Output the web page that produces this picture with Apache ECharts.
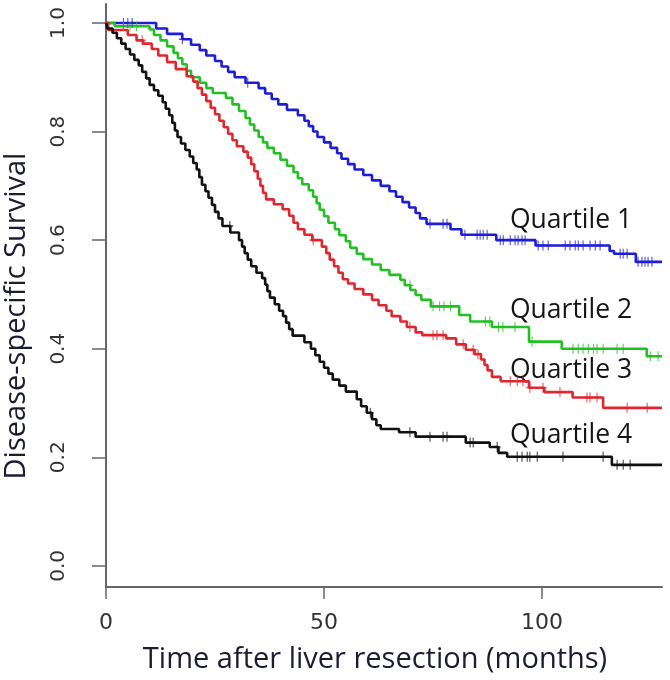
<!DOCTYPE html>
<html>
<head>
<meta charset="utf-8">
<script src="https://cdn.jsdelivr.net/npm/echarts@6/dist/echarts.min.js"></script>
<style>html,body{margin:0;padding:0;background:#fff}#chart{width:670px;height:680px}</style>
</head>
<body>
<div id="chart"></div>
<script>
// ---- data ----
var xTicks = [0, 50, 100];
var yTicks = [0, 0.2, 0.4, 0.6, 0.8, 1.0];
var seriesNames = ['Quartile 1', 'Quartile 2', 'Quartile 3', 'Quartile 4'];

var q1Times = [0, 11.5, 14, 17.5, 19.5, 21.5, 23, 25, 26.5, 28, 29.5, 32, 35, 36.5, 38, 39.5, 41.5, 44, 45.5, 46.5, 47.5, 48.5, 50, 51.5, 53, 54, 55.5, 57, 59, 61, 63, 65, 66.5, 68, 69.5, 71, 72, 73.5, 79, 81.5, 89.5, 98.5, 115.5, 116.5, 121.5, 127.5];
var q1Surv  = [1.0, 0.99, 0.98, 0.97, 0.96, 0.95, 0.94, 0.93, 0.92, 0.91, 0.90, 0.89, 0.88, 0.87, 0.86, 0.85, 0.84, 0.83, 0.82, 0.81, 0.80, 0.79, 0.78, 0.77, 0.76, 0.75, 0.74, 0.73, 0.72, 0.71, 0.70, 0.69, 0.68, 0.67, 0.66, 0.65, 0.64, 0.63, 0.62, 0.61, 0.60, 0.59, 0.58, 0.575, 0.56, 0.56];
var q1Cens  = [4, 5, 6, 17.5, 32.5, 74.3, 77.3, 78.2, 82.3, 85.1, 85.8, 86.5, 87.4, 90.4, 91.1, 92.7, 93.8, 94.5, 95.4, 96.1, 99.1, 100.2, 101.4, 105.3, 106.4, 107.6, 108.3, 109.4, 111, 112.2, 113.3, 117.9, 118.6, 119.5, 122, 122.9, 123.6, 124.3, 125.2];

var q2Times = [0, 2, 10, 11, 12.5, 14, 15.5, 16.5, 17.5, 18.5, 19.5, 21.5, 23, 24.5, 27.5, 29, 30.5, 32, 33, 34, 35, 36, 37, 38.5, 40, 41.5, 43, 44, 45, 46.5, 47.5, 48.3, 49, 50, 51, 52.5, 53.5, 55, 56, 57.5, 59, 61, 63, 65, 67.5, 68.5, 69.8, 71, 72.3, 74.5, 81, 83.5, 88.5, 97, 104.5, 124, 127.5];
var q2Surv  = [1.0, 0.994, 0.988, 0.978, 0.968, 0.957, 0.945, 0.935, 0.924, 0.912, 0.90, 0.89, 0.88, 0.871, 0.862, 0.85, 0.838, 0.825, 0.813, 0.802, 0.79, 0.78, 0.77, 0.76, 0.748, 0.737, 0.725, 0.714, 0.703, 0.692, 0.68, 0.668, 0.656, 0.644, 0.632, 0.62, 0.609, 0.598, 0.586, 0.575, 0.565, 0.555, 0.545, 0.536, 0.527, 0.517, 0.508, 0.499, 0.49, 0.478, 0.462, 0.45, 0.44, 0.413, 0.40, 0.386, 0.386];
var q2Cens  = [4, 5.5, 7, 69.7, 75, 76.5, 77.5, 79, 87, 88, 90, 91, 93.8, 97.7, 107.1, 108.3, 109.4, 110.6, 111.8, 112.6, 114, 117.2, 118.6, 124.8, 126.6];

var q3Times = [0, 0.5, 5, 7, 8.5, 10.5, 12, 14, 16, 18.5, 20, 21, 22, 23, 24, 25, 26, 27, 28, 29, 30, 31.5, 32.5, 33.3, 34, 34.8, 35.4, 36, 36.7, 38.5, 40.5, 42, 43, 44, 45.5, 47.3, 49.5, 50.5, 51.3, 52.3, 53.3, 54.3, 55.5, 57, 59, 61, 62.5, 64.3, 65.5, 67.5, 69, 71, 72.5, 78, 80.3, 82.5, 84.5, 86, 86.8, 87.5, 88.5, 90.5, 97, 100.5, 107, 114, 127.5];
var q3Surv  = [1.0, 0.987, 0.978, 0.968, 0.962, 0.952, 0.94, 0.928, 0.915, 0.902, 0.892, 0.88, 0.868, 0.856, 0.844, 0.832, 0.82, 0.808, 0.796, 0.784, 0.773, 0.763, 0.752, 0.74, 0.727, 0.713, 0.70, 0.687, 0.675, 0.666, 0.657, 0.645, 0.632, 0.62, 0.61, 0.60, 0.588, 0.576, 0.564, 0.552, 0.54, 0.528, 0.52, 0.51, 0.50, 0.49, 0.48, 0.47, 0.46, 0.45, 0.44, 0.43, 0.425, 0.419, 0.408, 0.398, 0.39, 0.38, 0.37, 0.36, 0.348, 0.34, 0.328, 0.32, 0.31, 0.291, 0.291];
var q3Cens  = [8.3, 47.5, 69.7, 75, 75.9, 77.3, 81.9, 84.2, 85.3, 92.7, 94.3, 95.6, 97.2, 100.2, 104.1, 110.3, 111, 112.6, 119.5, 124.1];

var q4Times = [0, 0.3, 1.5, 2.5, 3.5, 4.5, 5.5, 6.5, 7.5, 8.3, 9.2, 10, 11, 12, 13, 13.7, 14.5, 15.2, 15.8, 16.4, 17.2, 18.2, 19.2, 20, 20.8, 21.4, 22, 22.8, 23.5, 24.3, 25, 25.8, 26.7, 28.5, 30.5, 31.2, 31.8, 32.5, 33.3, 34.5, 35.8, 36.5, 37, 37.6, 38.7, 39.7, 40.6, 41.3, 42, 42.8, 45.5, 47, 48, 49, 50, 51, 52, 53.5, 55, 57.5, 58.5, 59.8, 61, 62, 63, 67.2, 71, 82.5, 88, 90, 92, 116, 127.5];
var q4Surv  = [1.0, 0.99, 0.982, 0.972, 0.962, 0.952, 0.942, 0.932, 0.922, 0.91, 0.898, 0.886, 0.876, 0.866, 0.854, 0.842, 0.83, 0.816, 0.802, 0.79, 0.778, 0.766, 0.754, 0.742, 0.73, 0.716, 0.702, 0.69, 0.678, 0.665, 0.652, 0.64, 0.626, 0.614, 0.60, 0.588, 0.576, 0.564, 0.552, 0.54, 0.53, 0.518, 0.506, 0.494, 0.482, 0.47, 0.46, 0.448, 0.436, 0.424, 0.412, 0.40, 0.388, 0.376, 0.365, 0.354, 0.343, 0.332, 0.321, 0.307, 0.294, 0.282, 0.27, 0.259, 0.252, 0.246, 0.238, 0.227, 0.219, 0.208, 0.201, 0.186, 0.186];
var q4Cens  = [28.4, 60.6, 69.7, 74.3, 77.3, 78.2, 83.5, 84.2, 89.7, 94.3, 95.4, 96.6, 97.2, 98.9, 104.8, 114, 117.2, 118.6, 120.2];

var colors = ['#1d1dd8', '#22c022', '#e0262e', '#111111'];

// ---- build ----
function pairs(ts, ss) { return ts.map(function (t, i) { return [t, ss[i]]; }); }
function stepAt(ts, ss, t) { var v = ss[0]; for (var i = 0; i < ts.length; i++) { if (ts[i] <= t) v = ss[i]; } return v; }
function cens(ts, ss, cs) { return cs.map(function (t) { return [t, stepAt(ts, ss, t)]; }); }

var curves = [[q1Times, q1Surv, q1Cens], [q2Times, q2Surv, q2Cens], [q3Times, q3Surv, q3Cens], [q4Times, q4Surv, q4Cens]];
var plus = 'path://M4.2,0 L5.8,0 L5.8,4.2 L10,4.2 L10,5.8 L5.8,5.8 L5.8,10 L4.2,10 L4.2,5.8 L0,5.8 L0,4.2 L4.2,4.2 Z';
var series = [];
curves.forEach(function (c, i) {
  series.push({ name: seriesNames[i], type: 'line', step: 'end', data: pairs(c[0], c[1]), showSymbol: false, symbol: 'none',
    lineStyle: { color: colors[i], width: 2.6 }, itemStyle: { color: colors[i] }, z: 3 });
  series.push({ name: seriesNames[i] + ' censored', type: 'scatter', data: cens(c[0], c[1], c[2]), symbol: plus,
    symbolSize: [7, 10], itemStyle: { color: colors[i], opacity: 0.75 }, z: 4 });
});

var chart = echarts.init(document.getElementById('chart'));
chart.setOption({
  animation: false,
  backgroundColor: '#ffffff',
  grid: { left: 106, right: 8, top: 4, bottom: 93, containLabel: false },
  xAxis: {
    type: 'value', min: 0, max: 127.5,
    axisLine: { show: true, onZero: false, lineStyle: { color: '#666', width: 2 } },
    axisTick: { show: true, length: 12, customValues: xTicks, lineStyle: { color: '#666', width: 1.5 } },
    axisLabel: { customValues: xTicks, margin: 25, fontSize: 22, fontFamily: 'DejaVu Sans', color: '#333' },
    splitLine: { show: false }
  },
  yAxis: {
    type: 'value', min: -0.039, max: 1.035,
    axisLine: { show: true, onZero: false, lineStyle: { color: '#666', width: 2 } },
    axisTick: { show: true, length: 14, customValues: yTicks, lineStyle: { color: '#666', width: 1.5 } },
    axisLabel: { customValues: yTicks, rotate: 90, margin: 47, align: 'center', verticalAlign: 'middle',
      fontSize: 20, fontFamily: 'DejaVu Sans', color: '#333',
      formatter: function (v) { return v.toFixed(1); } },
    splitLine: { show: false }
  },
  graphic: [
    { type: 'text', style: { text: 'Time after liver resection (months)', x: 375, y: 660, align: 'center', verticalAlign: 'middle', fontSize: 29, fontFamily: 'Open Sans', fill: '#1b1b33' } },
    { type: 'text', x: 17, y: 316, rotation: Math.PI / 2, style: { text: 'Disease-specific Survival', x: 0, y: 0, align: 'center', verticalAlign: 'middle', fontSize: 29, fontFamily: 'Open Sans', fill: '#1b1b33' } },
    { type: 'text', style: { text: seriesNames[0], x: 510, y: 220, verticalAlign: 'middle', fontSize: 26.5, fontFamily: 'Open Sans', fill: '#151515' } },
    { type: 'text', style: { text: seriesNames[1], x: 510, y: 310, verticalAlign: 'middle', fontSize: 26.5, fontFamily: 'Open Sans', fill: '#151515' } },
    { type: 'text', style: { text: seriesNames[2], x: 510, y: 370, verticalAlign: 'middle', fontSize: 26.5, fontFamily: 'Open Sans', fill: '#151515' } },
    { type: 'text', style: { text: seriesNames[3], x: 510, y: 435, verticalAlign: 'middle', fontSize: 26.5, fontFamily: 'Open Sans', fill: '#151515' } }
  ],
  series: series
});
</script>
</body>
</html>
